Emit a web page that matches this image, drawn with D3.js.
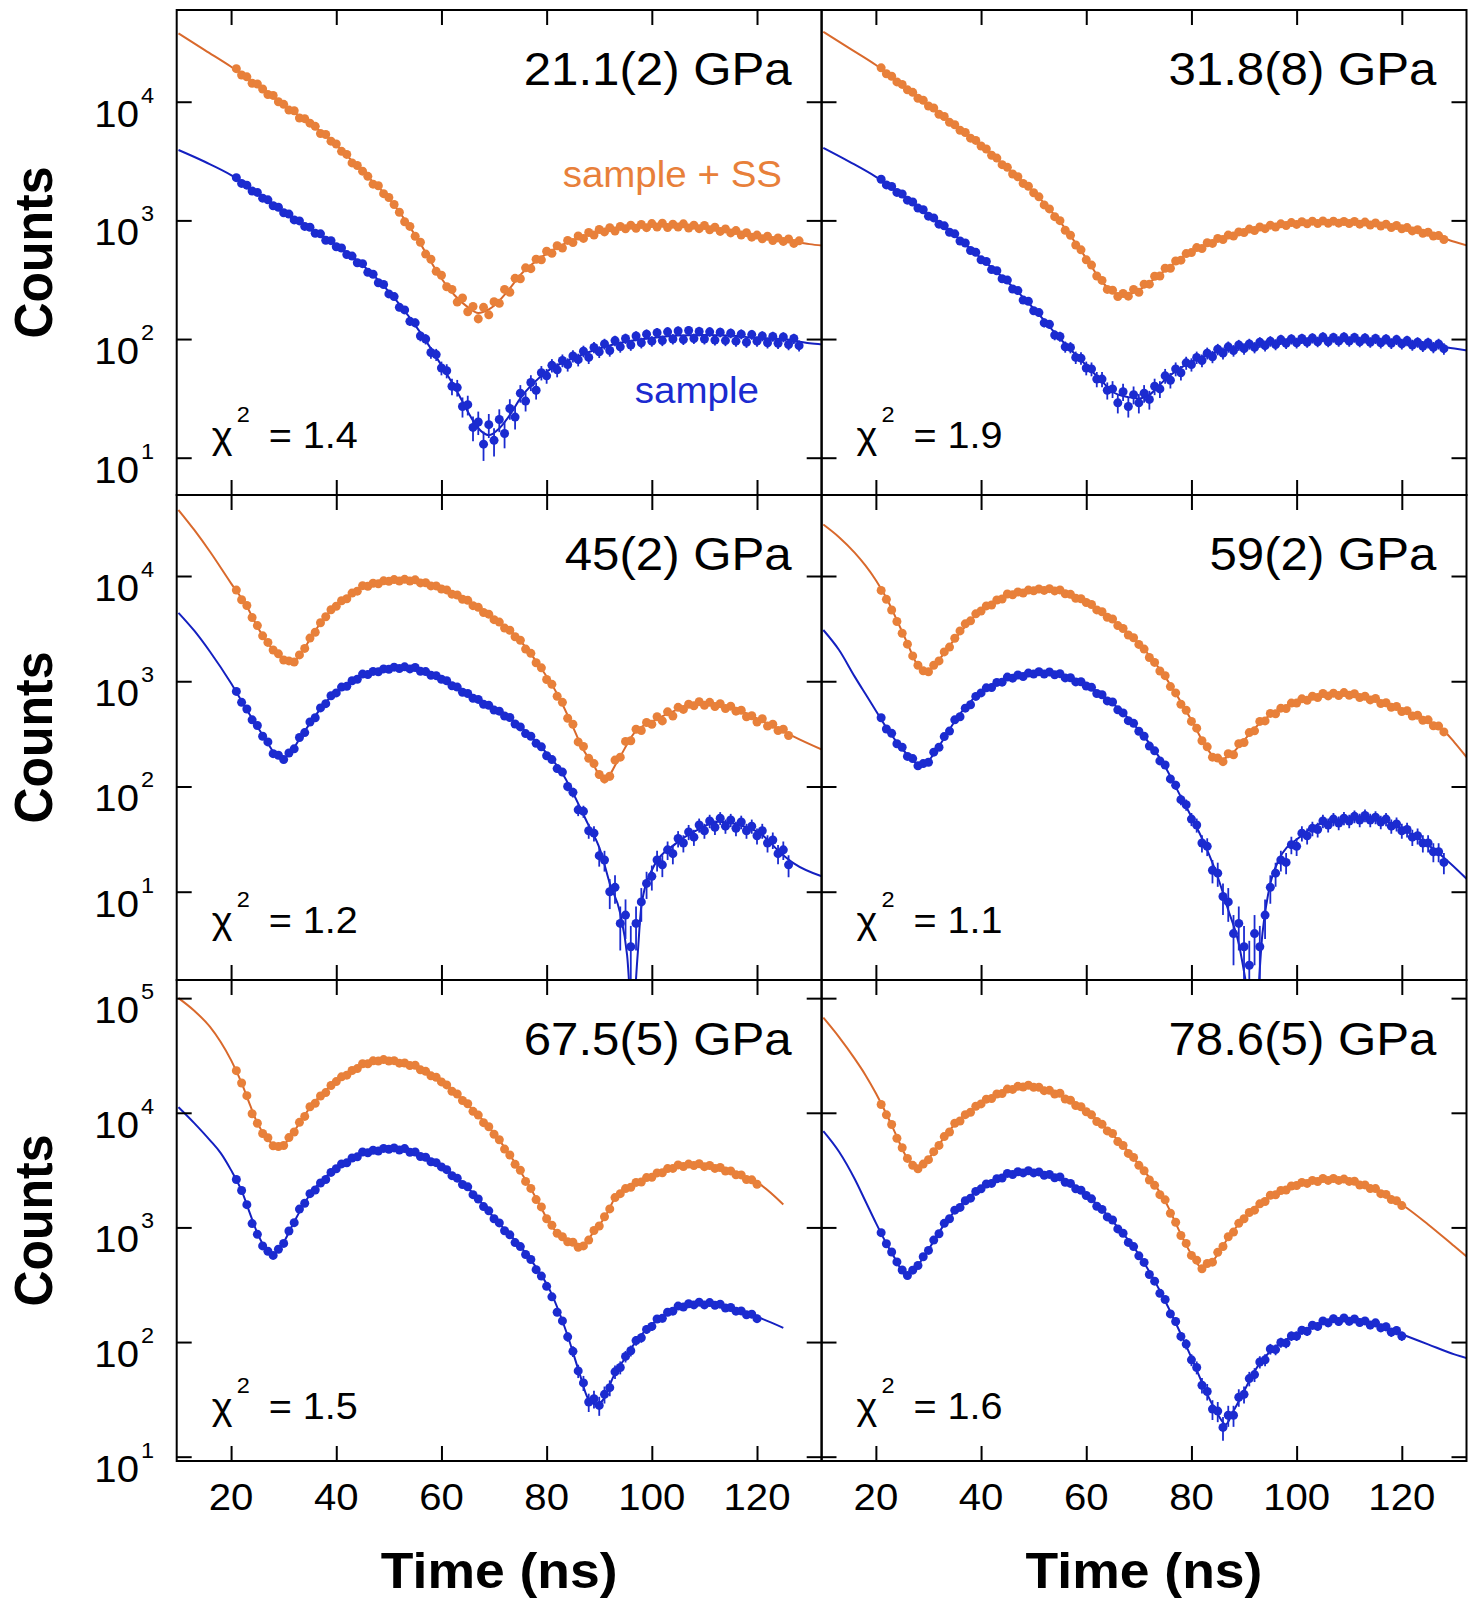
<!DOCTYPE html>
<html>
<head>
<meta charset="utf-8">
<script src="https://cdn.jsdelivr.net/npm/d3@7"></script>
<style>
  body { margin: 0; background: #fff; }
  svg { display: block; }
  text { font-family: "Liberation Sans", Arial, Helvetica, sans-serif; }
</style>
</head>
<body>
<svg id="chart"></svg>
<script>
// ---- labels ----
const pressures = ["21.1(2) GPa", "31.8(8) GPa", "45(2) GPa", "59(2) GPa", "67.5(5) GPa", "78.6(5) GPa"];
const chiValues = ["1.4", "1.9", "1.2", "1.1", "1.5", "1.6"];
const xTicks = [20, 40, 60, 80, 100, 120];
const rowTicks = [[10, 100, 1000, 10000], [10, 100, 1000, 10000], [10, 100, 1000, 10000, 100000]];

// data: counts in 1 ns bins, first bin at 21 ns
const dataStart = 21;

// 21.1(2) GPa
const p1Orange = [19000,16800,16200,14300,14100,12800,11500,11300,10000,9500,
  8500,8400,7300,7200,6600,6200,5400,5300,4650,4400,
  3820,3600,3050,2900,2600,2350,2020,1960,1680,1560,
  1360,1170,975,890,735,655,520,470,372,345,
  276,262,205,222,170,188,148,185,160,206,
  200,262,248,325,322,398,392,470,465,550,
  528,612,585,678,650,738,705,790,752,838,
  800,868,812,890,850,912,858,925,868,940,
  878,945,872,930,880,935,862,912,852,905,
  832,875,808,848,784,820,752,788,722,752,
  700,735,676,712,665,698,640,672];
const p1Blue = [2290,2050,1980,1770,1720,1540,1490,1330,1290,1160,
  1130,1010,990,890,875,780,770,680,675,600,
  585,515,500,440,432,365,352,298,288,240,
  228,185,176,141,137,106,100,77,74,57,
  54,40,39,27,28,18,20,13,19,14,
  21,16,26,22,35,30,43,37,52,49,
  60,55,66,61,72,67,79,70,85,78,
  91,80,97,86,101,89,106,93,110,96,
  113,97,115,100,117,99,118,101,116,100,
  115,98,114,97,112,96,110,94,109,96,
  106,93,105,92,104,90,101,88];
const p1FitOrangeT = [10,15,20,25,30,35,40,45,50,55,60,62.5,65,67,69,70,72.5,75,80,85,90,95,100,105,110,115,120,125,130,132.5];
const p1FitOrange = [37700,27200,19700,13800,9330,6610,4320,2570,1530,752,324,234,186,166,178,191,251,347,525,682,804,871,902,902,871,804,724,682,631,612];
const p1FitBlueT = [10,15,20,25,30,35,40,45,50,55,60,63,65,67,69,71,73,75,80,85,90,95,100,105,110,115,120,125,130,132.5];
const p1FitBlue = [3920,3120,2410,1690,1183,857,617,421,251,131,60,36,24.5,17.7,15.5,17.7,22.9,31.6,53,68.7,83.2,95,102,107,108,107,102,100,92,90];

// 31.8(8) GPa
const p2Orange = [19300,17200,16400,14700,14000,12600,12000,10700,10300,9200,
  8850,7850,7500,6700,6400,5750,5500,4930,4720,4240,
  4000,3540,3350,2950,2800,2460,2330,2050,1940,1710,
  1580,1350,1250,1075,995,825,750,620,565,465,
  420,340,312,262,258,228,242,230,262,248,
  290,290,338,340,395,395,455,462,525,535,
  590,580,648,640,705,690,752,738,800,790,
  845,820,880,852,912,880,935,905,958,925,
  975,935,985,942,990,945,985,948,978,940,
  980,930,968,915,952,895,930,872,905,850,
  870,815,835,780,795,738,745,690];
const p2Blue = [2220,1990,1930,1720,1670,1480,1430,1270,1230,1085,
  1050,930,900,795,770,670,645,558,538,465,
  450,385,376,322,314,264,256,213,208,173,
  167,137,133,108,105,86,85,70,69,57,
  56,46,46,37,38,29,36,27,34,29,
  35,31,40,38,49,45,56,52,63,61,
  70,66,76,71,82,76,86,80,89,83,
  91,85,94,88,96,90,99,92,100,93,
  101,94,102,95,104,95,103,96,104,96,
  103,95,102,94,101,93,100,92,99,91,
  97,89,94,87,93,85,91,83];
const p2FitOrangeT = [10,15,20,25,30,35,40,45,50,55,60,63,65,67,70,73,75,80,85,90,95,100,105,110,115,120,125,130,132.5];
const p2FitOrange = [38900,28200,20400,13800,9380,6310,4320,2750,1740,977,479,304,251,234,259,324,380,545,682,804,885,944,962,962,925,867,776,661,612];
const p2FitBlueT = [10,15,20,25,30,35,40,45,50,55,60,63,65,68,70,72,75,80,85,90,95,100,105,110,115,120,125,130,132.5];
const p2FitBlue = [4090,3120,2330,1633,1109,752,479,304,181,101,60,44,36,32.4,31.6,33.9,45.7,64.6,78.2,86.1,92,96.2,97.7,98.9,97.7,95.1,90.2,83.2,80];

// 45(2) GPa
const p3Orange = [7350,5950,5250,4030,3380,2700,2340,1980,1820,1590,
  1560,1520,1780,2050,2570,2920,3600,4100,4780,5160,
  5820,6080,6880,7180,8100,8000,8540,8450,9000,8900,
  9250,8950,9300,8950,9200,8600,8620,8050,8050,7520,
  7380,6720,6600,6020,5870,5230,5040,4500,4340,3850,
  3650,3200,3050,2650,2450,2020,1840,1500,1340,1040,
  935,720,630,445,390,265,240,185,165,130,
  118,125,178,190,268,272,350,340,405,390,
  460,420,512,468,565,540,605,585,640,590,
  630,575,612,550,580,520,530,460,470,410,
  440,375,390,340,350,305];
const p3Blue = [800,630,545,430,380,300,265,205,198,180,
  208,228,292,325,410,450,558,612,728,775,
  880,895,1010,1045,1170,1160,1240,1230,1310,1300,
  1360,1320,1370,1310,1350,1245,1235,1140,1130,1045,
  1010,905,880,785,765,690,672,605,590,532,
  520,468,452,392,368,318,300,257,238,196,
  180,148,137,100,88,60,58,38,36,22,
  20,10,11,5,6,3,5,8,12,14,
  20,18,25,23,32,29,37,33,43,38,
  47,41,50,42,48,40,46,38,42,34,
  38,29,31,23,25,18];
const p3FitOrangeT = [10,13,16,20,23,25,27,29,30,31,32,33,35,38,40,45,50,53,55,60,64.7,69.5,74.3,78.3,82.3,84.7,87,88.6,91,93.5,96.6,100.6,104.6,108.6,112.6,116.6,120.6,124.6,127,132.5];
const p3FitOrange = [42400,27400,17000,8510,5130,3300,2290,1780,1620,1530,1550,1740,2510,4170,5250,7940,9040,9120,9040,7640,5890,4100,2650,1480,713,398,222,170,115,175,319,427,532,617,594,532,427,344,297,222];
const p3FitBlueT = [10,13,16,20,23,25,27,28,29,30,31,33,35,38,40,45,50,53,55,60,64.7,72.7,78.3,83,87.8,90.2,92,94,95.3,96.3,97.3,98,100,104.6,108.6,112.6,116.6,120.6,124.6,127,132.5];
const p3FitBlue = [4470,3020,1905,955,532,370,257,214,191,186,200,282,398,631,794,1148,1327,1349,1327,1067,767,460,257,133,44.6,24.8,12,6.2,2.5,0.63,2.5,7.2,16,28.8,38.5,46.2,43,35.8,23.1,18.6,13.9];

// 59(2) GPa
const p4Orange = [7300,6000,4750,3700,2860,2250,1740,1420,1255,1230,
  1420,1560,1900,2110,2560,3010,3510,3750,4370,4650,
  5200,5300,5920,6050,6750,6620,7050,6900,7350,7250,
  7520,7300,7580,7220,7380,6780,6700,6150,6080,5600,
  5360,4760,4570,4060,3900,3380,3170,2750,2590,2240,
  2020,1680,1510,1250,1130,890,775,605,530,415,
  358,272,238,190,186,172,205,200,255,262,
  325,338,415,420,495,490,555,550,620,620,
  680,660,720,700,765,725,770,730,780,735,
  760,700,720,665,685,615,625,565,575,515,
  525,468,475,425,430,378,375,330];
const p4Blue = [450,352,320,255,236,193,184,157,165,170,
  212,236,298,336,430,460,555,598,718,775,
  865,870,975,980,1095,1070,1145,1110,1195,1170,
  1230,1170,1225,1150,1180,1075,1080,985,990,900,
  875,765,745,650,635,535,500,422,398,335,
  300,242,218,175,160,118,103,75,67,49,
  43,29,27,16,15,9,8,4,5,3,
  2,4,3,6,11,15,20,19,28,27,
  36,34,40,39,47,43,49,45,50,47,
  52,48,53,48,51,46,49,42,44,38,
  39,33,34,29,29,24,24,19];
const p4FitOrangeT = [10,13,16,18,20,22,24,26,27.5,29,30,31,33,35,40,45,50,53,55,60,65,70,75,80,83,85,87,90,93,95,100,105,110,115,120,125,128,130,132.5];
const p4FitOrange = [30900,23400,16600,12600,9120,6170,3800,2290,1550,1260,1260,1380,1860,2510,4750,6610,7360,7450,7240,5700,3820,2290,1100,427,229,178,192,275,398,479,638,741,755,661,532,417,339,263,185];
const p4FitBlueT = [10,13,16,18,20,22,24,26,27.5,28.5,29.5,31,33,35,40,45,50,53,55,60,65,70,75,78,80,83,85,87,89,90.5,92,93.5,95,96.6,100.6,104.6,108.6,112.6,116.6,120.6,124.6,127.8,132.5];
const p4FitBlue = [3070,1980,1100,759,525,363,263,200,168,158,164,204,288,417,794,1064,1189,1194,1148,923,617,344,154,79.4,51.5,24.8,13.8,6.7,3.2,1.26,0.5,4.0,12,20,33.1,44.6,47.9,51.5,47.9,38.5,28.8,21.5,13];

// 67.5(5) GPa
const p5Orange = [23300,18200,14100,9800,8100,6600,6050,5150,5080,5180,
  6080,6800,8250,9300,11300,12100,14000,15000,17300,18700,
  20600,21300,23400,24300,26800,26800,28400,28300,29100,28300,
  28500,27100,27200,25800,26000,23700,23000,21000,20400,18600,
  17500,15400,14600,12800,12000,10300,9550,8200,7550,6500,
  5820,4820,4280,3550,3150,2520,2190,1750,1510,1190,
  1045,890,830,750,742,670,690,775,940,1030,
  1240,1450,1820,1970,2180,2240,2470,2490,2720,2740,
  2990,3000,3260,3270,3510,3400,3570,3460,3590,3390,
  3470,3270,3330,3100,3110,2880,2870,2620,2600,2380];
const p5Blue = [2620,2100,1580,1080,870,690,620,570,645,725,
  930,1100,1445,1625,1970,2120,2440,2620,3020,3250,
  3580,3660,4030,4130,4550,4470,4710,4630,4890,4810,
  4940,4730,4870,4530,4550,4160,4090,3740,3670,3370,
  3190,2830,2690,2370,2260,1930,1770,1520,1395,1190,
  1095,935,862,737,680,580,525,428,376,306,
  248,182,153,111,83,56,44,30,32,28,
  35,40,55,60,75,84,103,109,129,137,
  159,161,182,186,206,202,216,211,223,211,
  221,209,214,198,200,186,187,173,175,160];
const p5FitOrangeT = [10,13,16,18,20,22,23.6,25,26.8,28,29,30,32,35,40,45,48,50,55,60,65,70.2,75,78.3,80.7,83,85.5,86.7,88.6,91,93.4,96.6,100.6,104.6,108.6,112.6,116.6,120.6,125];
const p5FitOrange = [100000,77600,56200,41700,28800,18200,11700,8130,6030,5250,5010,5250,6920,11070,18900,26300,28600,28600,25500,18900,11800,6460,3090,1700,1060,813,708,664,871,1213,1936,2370,2880,3430,3550,3310,2880,2370,1585];
const p5FitBlueT = [10,13,16,18,20,22,23.6,25,26.5,27.7,29,30,32,35,40,45,50,53,55,60,65,70,76.7,80.7,83.9,86.3,87.8,89.4,91,92.6,95,96.6,100.6,104.6,108.6,112.6,116.6,120.6,125];
const p5FitBlue = [11200,8130,5750,4470,3160,2090,1320,891,661,582,631,741,1122,1936,3310,4470,4900,4790,4470,3430,2220,1213,543,278,117,52.5,32.6,28.6,32.6,49,73.3,95.5,151,200,220,213,186,162,133];

// 78.6(5) GPa
const p6Orange = [11800,9600,7900,6000,4950,4000,3480,3250,3570,3900,
  4580,5190,6200,6800,8100,8480,9630,10100,11400,11950,
  13150,13300,14600,14700,16100,16000,17000,16800,17400,16700,
  16700,15600,15700,14600,14800,13200,12850,11550,11300,10200,
  9600,8400,7950,6950,6600,5610,5180,4420,4080,3480,
  3120,2590,2330,1930,1740,1330,1110,850,725,570,
  518,436,484,498,606,681,830,910,1085,1190,
  1350,1415,1605,1685,1910,1925,2100,2120,2300,2320,
  2470,2420,2570,2510,2670,2570,2670,2570,2640,2520,
  2530,2340,2350,2180,2180,1970,1940,1750,1710,1550];
const p6Blue = [900,720,610,500,425,380,424,465,555,630,
  775,880,1085,1190,1415,1495,1710,1800,2060,2170,
  2390,2420,2660,2700,2960,2890,3060,2990,3120,2990,
  3050,2850,2900,2710,2760,2480,2420,2170,2110,1900,
  1775,1530,1435,1235,1160,970,890,740,680,565,
  495,388,340,266,235,176,151,112,96,70,
  60,42,37,26,25,18,23,23,33,35,
  48,52,67,70,87,86,99,98,113,113,
  127,124,140,137,153,147,160,151,162,152,
  159,148,153,141,147,133,136,122,126,113];
const p6FitOrangeT = [10,13,16,18,20,22,24,25.5,27,28,30,32,35,40,45,48,50,55,60,65,70,75,78,80,82,84,87,90,95,100,105,108,110,115,120,125,130,132.5];
const p6FitOrange = [67600,45700,29500,21400,14800,9770,6170,4370,3510,3310,3980,5300,7940,12200,15800,17100,17000,14500,10350,6460,3550,1700,871,581,444,508,813,1213,1875,2370,2620,2620,2570,2140,1585,1062,685,550];
const p6FitBlueT = [10,13,16,18,20,22,24,25.5,27,29,31,33,35,40,45,48,50,55,60,65,70,75,78,80,83,85,86.5,88,90,92,95,100,105,108,110,115,120,125,130,132.5];
const p6FitBlue = [6920,4570,2630,1700,1096,724,501,389,415,543,759,1062,1387,2218,2900,3055,3055,2710,1936,1135,581,228,117,73.1,35,23.4,19.1,25.1,37.2,55.7,83.2,117,148,157,157,142,117,95.5,78,72];

const panels = [
  { orange: p1Orange, blue: p1Blue, fitO: [p1FitOrangeT, p1FitOrange], fitB: [p1FitBlueT, p1FitBlue] },
  { orange: p2Orange, blue: p2Blue, fitO: [p2FitOrangeT, p2FitOrange], fitB: [p2FitBlueT, p2FitBlue] },
  { orange: p3Orange, blue: p3Blue, fitO: [p3FitOrangeT, p3FitOrange], fitB: [p3FitBlueT, p3FitBlue] },
  { orange: p4Orange, blue: p4Blue, fitO: [p4FitOrangeT, p4FitOrange], fitB: [p4FitBlueT, p4FitBlue] },
  { orange: p5Orange, blue: p5Blue, fitO: [p5FitOrangeT, p5FitOrange], fitB: [p5FitBlueT, p5FitBlue] },
  { orange: p6Orange, blue: p6Blue, fitO: [p6FitOrangeT, p6FitOrange], fitB: [p6FitBlueT, p6FitBlue] }
];

// ---- layout ----
const W = 1478, H = 1600;
const colX = [176.7, 821.5], colW = 645;
const rowTop = [10, 495, 980], rowBot = [495, 980, 1461];
const rowDomain = [[4.85, 59300], [1.449, 58850], [9.17, 144000]];
const xDomain = [9.66, 132.3];
const SX = 1.07;   // text in the figure is a bit wide
const ORANGE = "#e8803a", ORANGE_LINE = "#d9692c";
const BLUE = "#1b2bd0", BLUE_LINE = "#1420c0";

const svg = d3.select("#chart").attr("width", W).attr("height", H);
svg.append("rect").attr("width", W).attr("height", H).attr("fill", "#fff");

function addText(parent, x, y, str, size, anchor, opt = {}) {
    const t = parent.append("text")
        .attr("transform", `translate(${x},${y}) scale(${SX},1)` + (opt.rotate ? ` rotate(${opt.rotate})` : ""))
        .attr("font-size", size)
        .attr("text-anchor", anchor || "start")
        .attr("fill", opt.fill || "#000")
        .text(str);
    if (opt.bold) t.attr("font-weight", "bold");
    return t;
}

function styleTicks(sel) {
    sel.select(".domain").remove();
    sel.selectAll("text").remove();
    sel.selectAll("line").attr("stroke", "#000").attr("stroke-width", 2);
}

panels.forEach((p, i) => {
    const col = i % 2, row = Math.floor(i / 2);
    const x0 = colX[col], x1 = x0 + colW, y0 = rowTop[row], y1 = rowBot[row];
    const x = d3.scaleLinear().domain(xDomain).range([x0, x1]);
    const y = d3.scaleLog().domain(rowDomain[row]).range([y1, y0]);
    const yMin = rowDomain[row][0];

    svg.append("clipPath").attr("id", "clip" + i)
        .append("rect").attr("x", x0).attr("y", y0).attr("width", colW).attr("height", y1 - y0);
    const plot = svg.append("g").attr("clip-path", `url(#clip${i})`);

    const line = d3.line().x(d => x(d[0])).y(d => y(d[1])).curve(d3.curveMonotoneX);

    // fitted curves
    [[p.fitO, ORANGE_LINE], [p.fitB, BLUE_LINE]].forEach(([f, c]) => {
        plot.append("path")
            .datum(f[0].map((t, k) => [t, f[1][k]]))
            .attr("d", line)
            .attr("fill", "none")
            .attr("stroke", c)
            .attr("stroke-width", 2);
    });

    // data with counting error bars
    [[p.orange, ORANGE], [p.blue, BLUE]].forEach(([vals, c]) => {
        const pts = vals.map((v, k) => ({ t: dataStart + k, v }));
        const g = plot.append("g");
        g.selectAll("line").data(pts).join("line")
            .attr("x1", d => x(d.t)).attr("x2", d => x(d.t))
            .attr("y1", d => y(Math.max(d.v - Math.sqrt(d.v), yMin * 0.3)))
            .attr("y2", d => y(d.v + Math.sqrt(d.v)))
            .attr("stroke", c).attr("stroke-width", 1.8);
        g.selectAll("circle").data(pts).join("circle")
            .attr("cx", d => x(d.t)).attr("cy", d => y(d.v))
            .attr("r", 4.5).attr("fill", c);
    });

    // ticks on all four sides, pointing inward
    const ax = svg.append("g");
    ax.append("g").attr("transform", `translate(${x0},0)`)
        .call(d3.axisLeft(y).tickValues(rowTicks[row]).tickSize(-15)).call(styleTicks);
    ax.append("g").attr("transform", `translate(${x1},0)`)
        .call(d3.axisRight(y).tickValues(rowTicks[row]).tickSize(-15)).call(styleTicks);
    ax.append("g").attr("transform", `translate(0,${y0})`)
        .call(d3.axisTop(x).tickValues(xTicks).tickSize(-15)).call(styleTicks);
    ax.append("g").attr("transform", `translate(0,${y1})`)
        .call(d3.axisBottom(x).tickValues(xTicks).tickSize(-15)).call(styleTicks);

    svg.append("rect")
        .attr("x", x0).attr("y", y0).attr("width", colW).attr("height", y1 - y0)
        .attr("fill", "none").attr("stroke", "#000").attr("stroke-width", 2);

    // y tick labels (left column only)
    if (col === 0) {
        rowTicks[row].forEach(v => {
            const e = Math.round(Math.log10(v));
            addText(svg, 139, y(v) + 25, "10", 37.5, "end");
            addText(svg, 141, y(v) + 1, String(e), 22, "start");
        });
        addText(svg, 52, (y0 + y1) / 2, "Counts", 50, "middle", { bold: true, rotate: -90 });
    }
    // x tick labels (bottom row only)
    if (row === 2) {
        xTicks.forEach(t => addText(svg, x(t), 1510, String(t), 37.5, "middle"));
        addText(svg, (x0 + x1) / 2, 1588, "Time (ns)", 50, "middle", { bold: true });
    }

    // pressure and chi-square
    addText(svg, x1 - 30, y0 + 75, pressures[i], 46, "end");
    const cb = row === 2 ? y1 - 42 : y1 - 47;
    addText(svg, x0 + 35, cb, "\u03c7", 37, "start");
    addText(svg, x0 + 60, cb - 26, "2", 22, "start");
    addText(svg, x0 + 92, cb, "= " + chiValues[i], 37, "start");

    if (i === 0) {
        addText(svg, 782, 187, "sample + SS", 36, "end", { fill: ORANGE });
        addText(svg, 759, 403, "sample", 36, "end", { fill: BLUE });
    }
});
</script>
</body>
</html>
